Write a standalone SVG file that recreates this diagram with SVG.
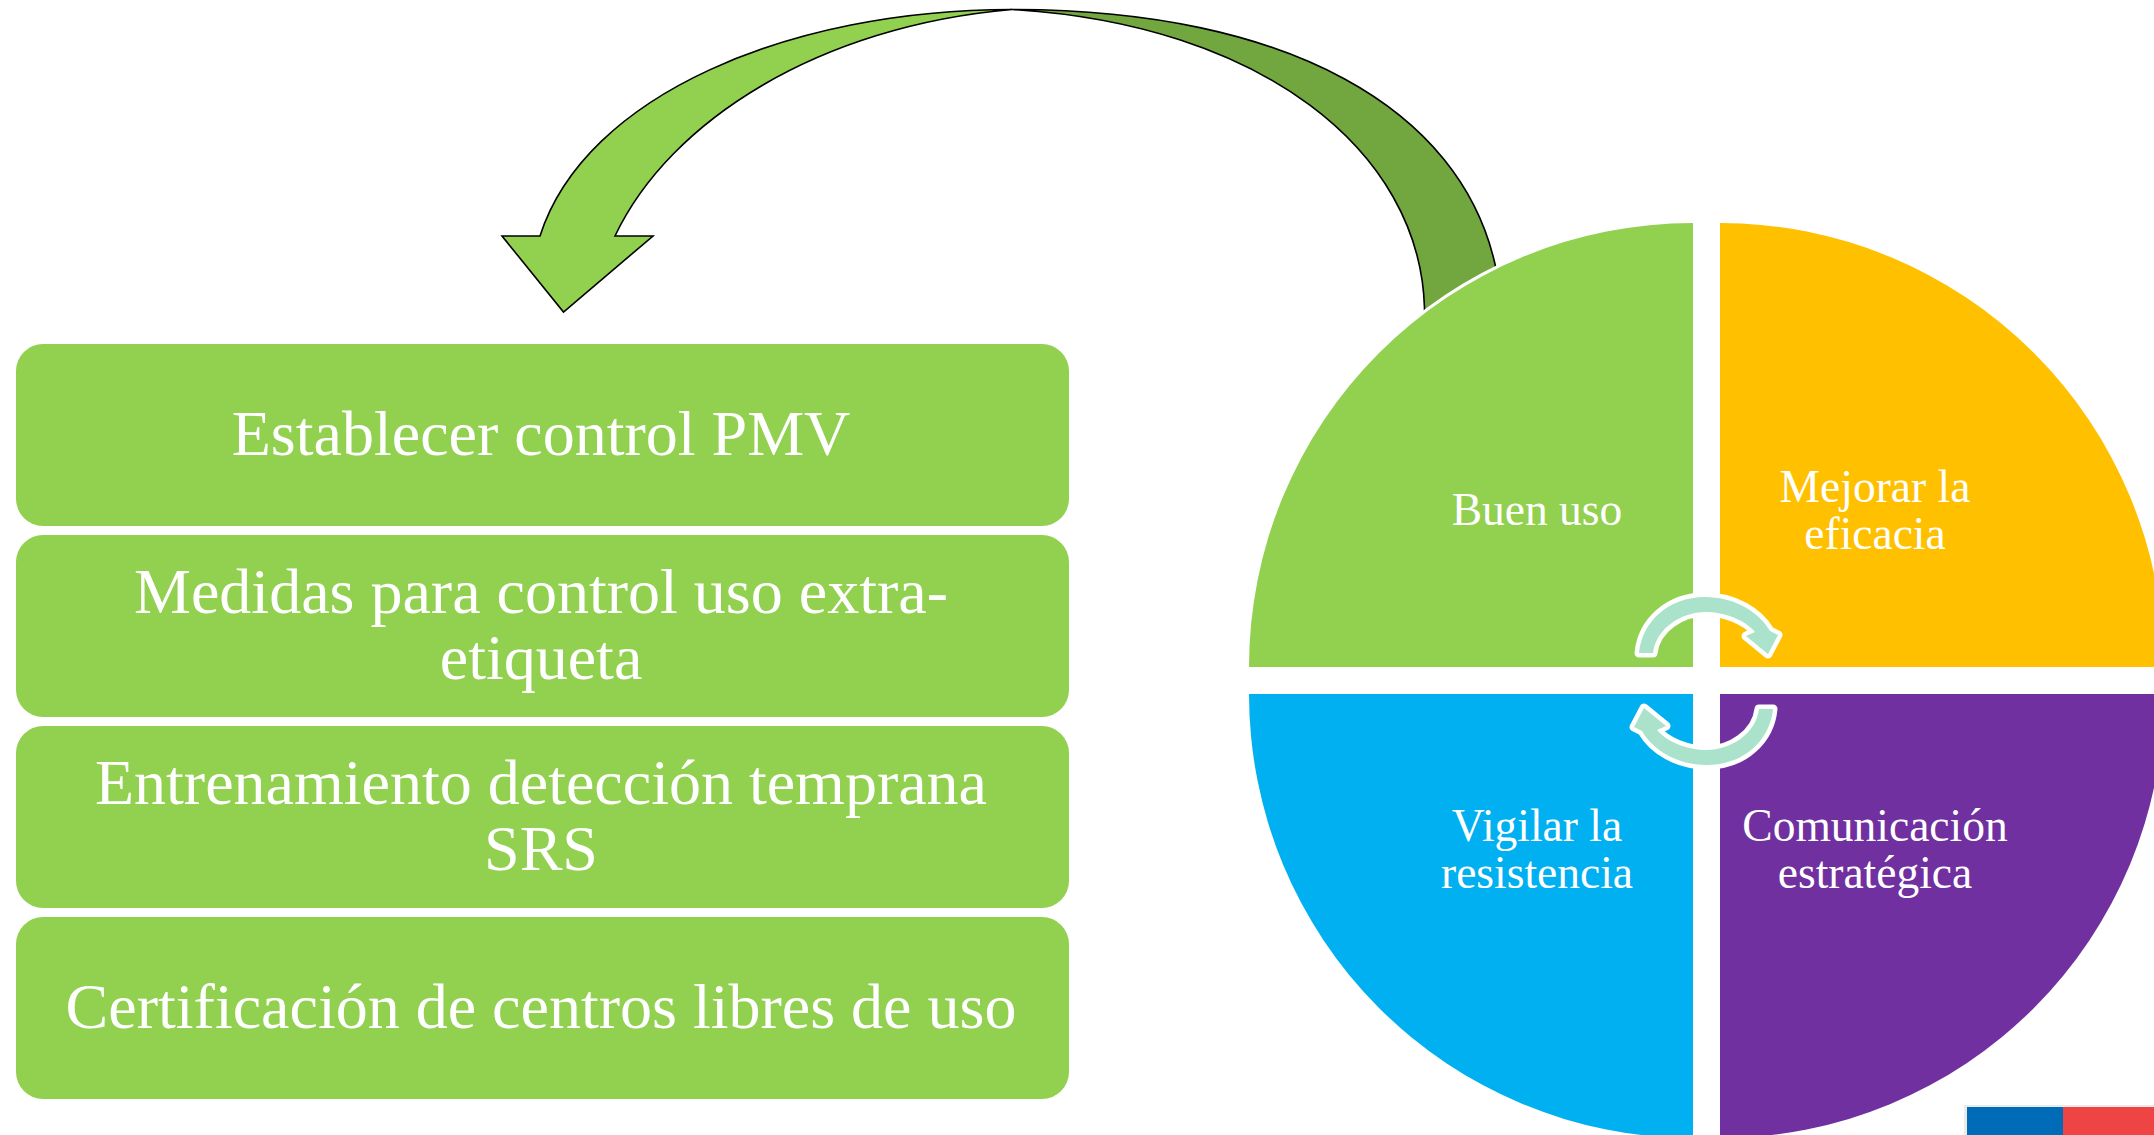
<svg xmlns="http://www.w3.org/2000/svg" width="2154" height="1135" viewBox="0 0 2154 1135">
<style>
.box{fill:#92D050}
.big{font:64px "Liberation Serif",serif;fill:#fff;text-anchor:middle}
.small{font:45.500px "Liberation Serif",serif;fill:#fff;text-anchor:middle}
.cyc{fill:#ABE2CB;stroke:#fff;stroke-width:9;stroke-linejoin:round;paint-order:stroke}
.ln{stroke:#000;stroke-width:1.6;stroke-linejoin:miter}
</style>
<rect width="2154" height="1135" fill="#fff"/>
<g id="connectors">
<path id="arrow-back" class="ln" fill="#72A63E" d="M1012 9.500C1290 9.500 1460 110 1495 264L1510 340L1424.500 340L1424.500 308C1420 150 1260 24 1012 9.500Z"/>
<path id="arrow-front" class="ln" fill="#92D050" d="M1012 9.500C790 9.500 585 95 540 236H502L563.500 312L653 236H615C670 120 820 26 1012 9.500Z"/>
</g>
<g id="box1"><rect class="box" x="16" y="344" width="1053" height="182" rx="27"/><text class="big" x="541" y="455">Establecer control PMV</text></g>
<g id="box2"><rect class="box" x="16" y="535" width="1053" height="182" rx="27"/><text class="big" x="541" y="613">Medidas para control uso extra-</text><text class="big" x="541" y="679">etiqueta</text></g>
<g id="box3"><rect class="box" x="16" y="726" width="1053" height="182" rx="27"/><text class="big" x="541" y="804">Entrenamiento detección temprana</text><text class="big" x="541" y="870">SRS</text></g>
<g id="box4"><rect class="box" x="16" y="917" width="1053" height="182" rx="27"/><text class="big" x="541" y="1028">Certificación de centros libres de uso</text></g>
<g id="q1"><path fill="#92D050" stroke="#fff" stroke-width="6" paint-order="stroke" d="M1693 667H1249A444 444 0 0 1 1693 223Z"/><text class="small" x="1537" y="525">Buen uso</text></g>
<g id="q2"><path fill="#FFC000" d="M1720 667V223A444 444 0 0 1 2164 667Z"/><text class="small" x="1875" y="502">Mejorar la</text><text class="small" x="1875" y="549">eficacia</text></g>
<g id="q3"><path fill="#00B0F0" d="M1693 694V1138A444 444 0 0 1 1249 694Z"/><text class="small" x="1537" y="841">Vigilar la</text><text class="small" x="1537" y="888">resistencia</text></g>
<g id="q4"><path fill="#7030A0" d="M1720 694H2164A444 444 0 0 1 1720 1138Z"/><text class="small" x="1875" y="841">Comunicación</text><text class="small" x="1875" y="888">estratégica</text></g>
<g id="cycle">
<path id="c1" class="cyc" d="M1639 653C1642 622 1668 597 1705 597C1735 597 1759 612 1770 631L1778 635L1768 654L1746 636L1755 632C1745 620 1725 612 1705 612C1682 612 1656 628 1653 653Z"/>
<path class="cyc" transform="rotate(180 1706 681)" d="M1639 653C1642 622 1668 597 1705 597C1735 597 1759 612 1770 631L1778 635L1768 654L1746 636L1755 632C1745 620 1725 612 1705 612C1682 612 1656 628 1653 653Z"/>
</g>
<g id="flag">
<rect x="1964" y="1105" width="190" height="30" fill="#000" opacity=".08"/>
<rect x="1967" y="1107" width="96" height="28" fill="#006CB7"/>
<rect x="2063" y="1107" width="91" height="28" fill="#EF4444"/>
</g>
</svg>
